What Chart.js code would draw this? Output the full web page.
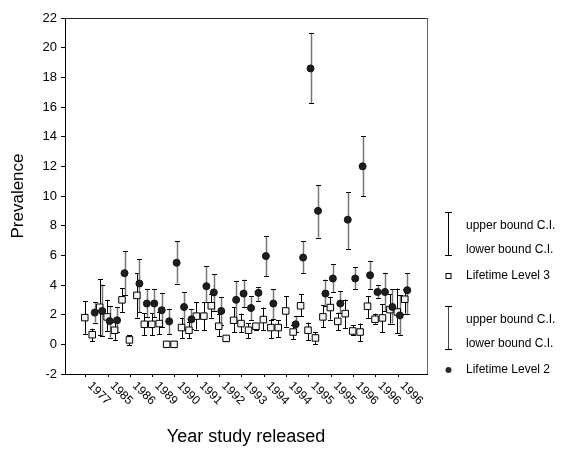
<!DOCTYPE html>
<html>
<head>
<meta charset="utf-8">
<script src="https://cdn.jsdelivr.net/npm/chart.js@4.4.0/dist/chart.umd.min.js"></script>
<style>
  html, body { margin: 0; padding: 0; background: #fff; }
  #wrap { width: 563px; height: 449px; position: relative; }
</style>
</head>
<body>
<div id="wrap"><canvas id="chart"></canvas></div>
<script>
// Tick labels shown on every third study
const yearLabels = ['1977', '1985', '1986', '1989', '1990', '1991', '1992', '1993',
    '1994', '1994', '1995', '1995', '1996', '1996', '1996'];

// Lifetime Level 3 (open squares), one entry per study
const level3Mean = [1.8, 0.65, 2.5, 1.85, 0.95, 3.0, 0.3, 3.3, 1.35, 1.35, 1.4, 0.0, 0.0, 1.13, 0.95,
    1.9, 1.9, 2.6, 1.22, 0.4, 1.62, 1.4, 0.95, 1.22, 1.67, 1.13, 1.13, 2.25, 0.83, 2.6,
    0.95, 0.43, 1.85, 2.48, 1.55, 2.07, 0.9, 0.83, 2.57, 1.69, 1.78, 2.34, 2.18, 3.04];
const level3Low = [0.7, 0.2, 0.6, 0.9, 0.3, 2.2, -0.05, 1.8, 0.6, 0.6, 0.7, -0.2, -0.2, 0.43, 0.43,
    1.0, 0.95, 1.8, 0.55, 0.25, 0.8, 0.83, 0.43, 1.0, 0.95, 0.43, 0.5, 1.2, 0.34, 1.89,
    0.27, 0.0, 1.17, 1.67, 0.95, 1.1, 0.61, 0.22, 1.78, 1.4, 0.83, 1.4, 0.76, 2.07];
const level3High = [2.9, 1.05, 4.4, 3.0, 1.5, 3.8, 0.6, 4.8, 2.1, 2.1, 2.15, 0.2, 0.2, 1.8, 1.5,
    2.85, 2.85, 3.4, 2.07, 0.55, 2.5, 2.07, 1.44, 1.44, 2.48, 1.62, 1.62, 3.26, 1.28, 3.38,
    1.47, 0.83, 2.64, 3.2, 2.14, 3.02, 1.28, 1.4, 3.24, 2.07, 2.7, 3.38, 3.76, 3.72];

// Lifetime Level 2 (filled markers), null where the study has no value
const level2Mean = [null, 2.14, 2.25, 1.57, 1.62, 4.8, null, 4.1, 2.75, 2.75, 2.3, 1.55, 5.5, 2.52, 1.69,
    null, 3.92, 3.5, 2.25, null, 3.0, 3.42, 2.45, 3.47, 5.95, 2.75, null, null, 1.35, 5.85,
    18.6, 9.0, 3.42, 4.44, 2.75, 8.4, 4.44, 12.0, 4.66, 3.53, 3.53, 2.52, 1.95, 3.65];
const level2Low = [null, 1.47, 0.54, 0.45, 0.83, 3.3, null, 2.18, 1.85, 1.85, 1.17, 0.68, 4.1, 1.01, 1.01,
    null, 2.86, 2.25, 1.28, null, 1.6, 2.52, 1.62, 2.93, 4.6, 1.7, null, null, 0.83, 4.78,
    16.25, 7.2, 2.57, 3.53, 2.1, 6.42, 3.7, 10.0, 3.7, 3.13, 2.23, 1.4, 0.61, 2.03];
const level2High = [null, 2.86, 4.03, 2.6, 2.52, 6.3, null, 5.74, 3.72, 3.72, 3.47, 2.4, 6.94, 3.53, 2.36,
    null, 5.27, 4.71, 3.16, null, 4.26, 4.37, 3.24, 3.87, 7.3, 3.72, null, null, 1.91, 6.96,
    21.0, 10.75, 4.37, 5.4, 3.58, 10.25, 5.2, 14.05, 5.63, 3.99, 4.83, 3.7, 3.31, 4.78];

const FONT = "'Liberation Sans', Arial, sans-serif";

// clustered offset inside each study slot
const OFFSET_L3 = -0.12;
const OFFSET_L2 = 0.22;

function toPoints(means, offset) {
    const pts = [];
    means.forEach((v, i) => {
        if (v !== null) pts.push({ x: i + offset, y: v });
    });
    return pts;
}

function toBounds(means, lows, highs, offset) {
    const out = [];
    means.forEach((v, i) => {
        if (v !== null) out.push({ x: i + offset, lo: lows[i], hi: highs[i] });
    });
    return out;
}

const errorBarPlugin = {
    id: 'errorBars',
    beforeDatasetsDraw(chart) {
        const ctx = chart.ctx;
        const xs = chart.scales.x;
        const ys = chart.scales.y;
        chart.data.datasets.slice().reverse().forEach(ds => {
            ds.bounds.forEach(b => {
                const px = Math.round(xs.getPixelForValue(b.x)) + 0.5;
                const top = ys.getPixelForValue(b.hi);
                const bot = ys.getPixelForValue(b.lo);
                ctx.save();
                ctx.strokeStyle = ds.barColor;
                ctx.lineWidth = ds.barWidth;
                ctx.beginPath();
                ctx.moveTo(px, top);
                ctx.lineTo(px, bot);
                ctx.stroke();
                ctx.strokeStyle = '#000';
                ctx.lineWidth = 1;
                ctx.beginPath();
                ctx.moveTo(px - 2.5, Math.round(top) + 0.5);
                ctx.lineTo(px + 2.5, Math.round(top) + 0.5);
                ctx.moveTo(px - 2.5, Math.round(bot) + 0.5);
                ctx.lineTo(px + 2.5, Math.round(bot) + 0.5);
                ctx.stroke();
                ctx.restore();
            });
        });
    }
};

const framePlugin = {
    id: 'frame',
    afterDraw(chart) {
        const { ctx, chartArea } = chart;
        ctx.save();
        ctx.lineWidth = 1;
        ctx.strokeStyle = '#222';
        ctx.beginPath();
        ctx.moveTo(chartArea.left, Math.round(chartArea.top) + 0.5);
        ctx.lineTo(chartArea.right, Math.round(chartArea.top) + 0.5);
        ctx.stroke();
        ctx.strokeStyle = '#666';
        ctx.beginPath();
        ctx.moveTo(Math.round(chartArea.right) + 0.5, chartArea.top);
        ctx.lineTo(Math.round(chartArea.right) + 0.5, chartArea.bottom);
        ctx.stroke();
        ctx.restore();
    }
};

// rotated year labels, reading downwards to the right
const xLabelPlugin = {
    id: 'xLabels',
    afterDraw(chart) {
        const ctx = chart.ctx;
        const xs = chart.scales.x;
        ctx.save();
        ctx.fillStyle = '#000';
        ctx.font = '12px ' + FONT;
        ctx.textAlign = 'left';
        ctx.textBaseline = 'middle';
        xs.ticks.forEach(t => {
            const label = yearLabels[Math.round(t.value / 3)];
            const px = xs.getPixelForValue(t.value);
            ctx.save();
            ctx.translate(px + 4, chart.chartArea.bottom + 10);
            ctx.rotate(Math.PI / 4);
            ctx.fillText(label, 0, 0);
            ctx.restore();
        });
        ctx.restore();
    }
};

const legendPlugin = {
    id: 'sideLegend',
    afterDraw(chart) {
        const ctx = chart.ctx;
        const groups = [
            { top: 212, label: 'Lifetime Level 3', bar: '#000', filled: false },
            { top: 306, label: 'Lifetime Level 2', bar: '#444', filled: true }
        ];
        const bx = 448.5;
        const tx = 466;
        ctx.save();
        ctx.font = '12px ' + FONT;
        ctx.fillStyle = '#000';
        ctx.textAlign = 'left';
        ctx.textBaseline = 'middle';
        groups.forEach(g => {
            ctx.strokeStyle = g.bar;
            ctx.lineWidth = 1;
            ctx.beginPath();
            ctx.moveTo(bx, g.top);
            ctx.lineTo(bx, g.top + 43);
            ctx.stroke();
            ctx.strokeStyle = '#000';
            ctx.beginPath();
            ctx.moveTo(bx - 3.5, g.top + 0.5);
            ctx.lineTo(bx + 3.5, g.top + 0.5);
            ctx.moveTo(bx - 3.5, g.top + 43.5);
            ctx.lineTo(bx + 3.5, g.top + 43.5);
            ctx.stroke();
            ctx.fillText('upper bound C.I.', tx, g.top + 14);
            ctx.fillText('lower bound C.I.', tx, g.top + 38);
            const my = g.top + 64;
            if (g.filled) {
                ctx.fillStyle = '#2a2a2a';
                ctx.beginPath();
                ctx.arc(bx, my, 3, 0, Math.PI * 2);
                ctx.fill();
            } else {
                ctx.fillStyle = '#fff';
                ctx.strokeStyle = '#000';
                ctx.fillRect(bx - 2.5, my - 2.5, 5, 5);
                ctx.strokeRect(bx - 2.5, my - 2.5, 5, 5);
            }
            ctx.fillStyle = '#000';
            ctx.fillText(g.label, tx, my);
        });
        ctx.restore();
    }
};

const ctx = document.getElementById('chart').getContext('2d');
new Chart(ctx, {
    type: 'scatter',
    data: {
        datasets: [
            {
                label: 'Lifetime Level 2',
                data: toPoints(level2Mean, OFFSET_L2),
                bounds: toBounds(level2Mean, level2Low, level2High, OFFSET_L2),
                barColor: '#777',
                barWidth: 1.5,
                pointStyle: 'circle',
                pointRadius: 3.5,
                backgroundColor: '#1e1e1e',
                borderColor: '#111',
                borderWidth: 1
            },
            {
                label: 'Lifetime Level 3',
                data: toPoints(level3Mean, OFFSET_L3),
                bounds: toBounds(level3Mean, level3Low, level3High, OFFSET_L3),
                barColor: '#000',
                barWidth: 1,
                pointStyle: 'rect',
                pointRadius: 4.6,
                backgroundColor: '#f4f4f4',
                borderColor: '#000',
                borderWidth: 1
            }
        ]
    },
    options: {
        responsive: true,
        maintainAspectRatio: false,
        animation: false,
        layout: { padding: { top: 18, right: 136, left: 0, bottom: 0 } },
        plugins: {
            legend: { display: false },
            tooltip: { enabled: false }
        },
        scales: {
            x: {
                type: 'linear',
                min: -2.78,
                max: 45.87,
                afterBuildTicks: (scale) => {
                    scale.ticks = yearLabels.map((_, k) => ({ value: k * 3 }));
                },
                afterFit: (scale) => { scale.height = 75; },
                ticks: { display: false },
                grid: { drawOnChartArea: false, drawTicks: true, tickLength: 3, color: '#000' },
                border: { color: '#000', width: 1 },
                title: {
                    display: true,
                    text: 'Year study released',
                    color: '#000',
                    font: { family: FONT, size: 18 },
                    padding: { top: 0, bottom: 1 }
                }
            },
            y: {
                min: -2,
                max: 22,
                afterFit: (scale) => { scale.width = 65; },
                ticks: {
                    stepSize: 2,
                    color: '#000',
                    padding: 4,
                    font: { family: FONT, size: 13 }
                },
                grid: { drawOnChartArea: false, drawTicks: true, tickLength: 4, color: '#000' },
                border: { color: '#000', width: 1 },
                title: {
                    display: true,
                    text: 'Prevalence',
                    color: '#000',
                    font: { family: FONT, size: 17 },
                    padding: { top: 8, bottom: 0 }
                }
            }
        }
    },
    plugins: [errorBarPlugin, framePlugin, xLabelPlugin, legendPlugin]
});
</script>
</body>
</html>
